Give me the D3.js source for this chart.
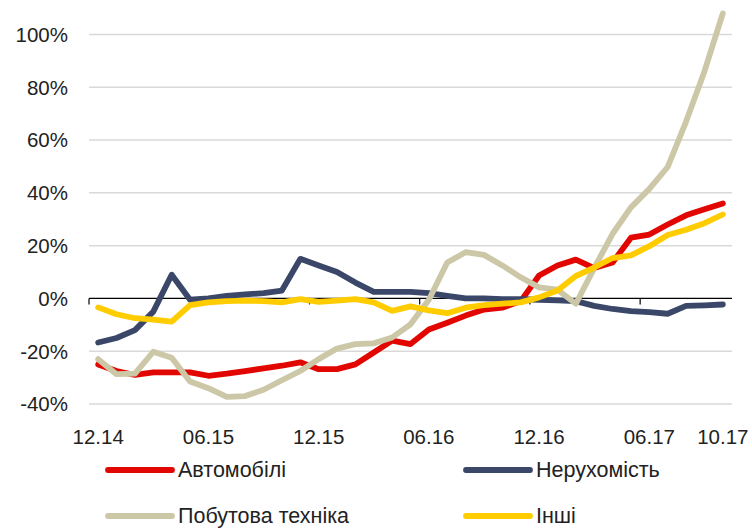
<!DOCTYPE html>
<html><head><meta charset="utf-8">
<script src="https://cdn.jsdelivr.net/npm/d3@7"></script>
<style>
html,body{margin:0;padding:0;background:#fff;}
svg{display:block;}
text{font-family:"Liberation Sans",Arial,sans-serif;fill:#222;}
</style></head>
<body>
<svg id="chart" width="752" height="529"></svg>
<script>
const months = ["12.14","01.15","02.15","03.15","04.15","05.15","06.15","07.15","08.15","09.15","10.15","11.15",
  "12.15","01.16","02.16","03.16","04.16","05.16","06.16","07.16","08.16","09.16","10.16","11.16",
  "12.16","01.17","02.17","03.17","04.17","05.17","06.17","07.17","08.17","09.17","10.17"];
const tickLabels = ["12.14","06.15","12.15","06.16","12.16","06.17","10.17"];
const yTicks = [-40,-20,0,20,40,60,80,100];

const autos = [-25,-27.5,-29,-28,-28,-28,-29.3,-28.5,-27.5,-26.5,-25.5,-24.2,
  -26.8,-26.8,-25,-20.5,-16,-17.3,-11.8,-9.2,-6.5,-4.2,-3.5,-1,
  8.7,12.5,14.7,11.5,13.6,23,24.2,28,31.5,33.8,36];
const realty = [-16.7,-15,-12,-5,9,-0.5,0,1,1.5,2,3,15,
  12.5,10,6,2.5,2.5,2.5,2,1,0,0,-0.3,-0.3,
  -0.5,-0.7,-1,-2.8,-4,-4.8,-5.2,-5.8,-2.8,-2.6,-2.3];
const appliances = [-23,-28.7,-28.5,-20.2,-22.5,-31.5,-34,-37.3,-37,-34.6,-31,-27.5,
  -23,-19,-17.3,-17,-14.8,-9.8,-0.5,13.6,17.5,16.5,12.5,8,
  4.2,3.3,-2,11.5,24.5,34.5,41.5,49.8,67,86,108];
const other = [-3.4,-6,-7.5,-8,-8.8,-2.5,-1.5,-1,-0.8,-1,-1.5,-0.3,
  -1.3,-0.8,-0.3,-1.5,-4.7,-3,-4.5,-5.6,-3.5,-2.5,-2,-1.5,
  0.4,3,8.5,11.7,15.3,16.3,19.8,24,26,28.5,31.8];

const seriesNames = ["Автомобілі","Нерухомість","Побутова техніка","Інші"];
const seriesColors = ["#e10600","#3b4768","#ccc7a6","#ffcc00"];
const seriesData = [autos, realty, appliances, other];

const svg = d3.select("#chart");
const x = d3.scaleBand().domain(months).range([89, 732]).padding(0);
const y = d3.scaleLinear().domain([-40, 100]).range([404, 34.5]);
const cx = m => x(m) + x.bandwidth() / 2;

// gridlines
svg.append("g").selectAll("line").data(yTicks.filter(d => d !== 0)).join("line")
  .attr("x1", 89).attr("x2", 732)
  .attr("y1", d => y(d)).attr("y2", d => y(d))
  .attr("stroke", "#d9d9d9").attr("stroke-width", 1.5);

// y labels
svg.append("g").selectAll("text").data(yTicks).join("text")
  .attr("x", 68).attr("y", d => y(d)).attr("dy", "0.36em")
  .attr("text-anchor", "end").attr("font-size", 20.5)
  .text(d => d + "%");

// zero axis line with ticks
const axisG = svg.append("g");
axisG.append("line").attr("x1", 89).attr("x2", 732)
  .attr("y1", y(0)).attr("y2", y(0)).attr("stroke", "#000").attr("stroke-width", 1.2);
const tickIdx = [0, 6, 12, 18, 24, 30];
axisG.selectAll("line.t").data(tickIdx).join("line").attr("class", "t")
  .attr("x1", i => x(months[i])).attr("x2", i => x(months[i]))
  .attr("y1", y(0)).attr("y2", y(0) + 6).attr("stroke", "#000").attr("stroke-width", 1.2);

// x labels
svg.append("g").selectAll("text").data(tickLabels).join("text")
  .attr("x", d => cx(d)).attr("y", 444)
  .attr("text-anchor", "middle").attr("font-size", 20.5)
  .text(d => d);

// lines
const line = d3.line().x((d, i) => cx(months[i])).y(d => y(d));
svg.append("g").selectAll("path").data(seriesData).join("path")
  .attr("d", d => line(d)).attr("fill", "none")
  .attr("stroke", (d, i) => seriesColors[i]).attr("stroke-width", 5.8)
  .attr("stroke-linejoin", "round").attr("stroke-linecap", "round");

// legend
const legPos = [[108, 470], [466, 470], [108, 516], [466, 516]];
const leg = svg.append("g").selectAll("g").data(seriesNames).join("g")
  .attr("transform", (d, i) => `translate(${legPos[i][0]},${legPos[i][1]})`);
leg.append("line").attr("x1", 0).attr("x2", 64).attr("y1", 0).attr("y2", 0)
  .attr("stroke", (d, i) => seriesColors[i]).attr("stroke-width", 5.8).attr("stroke-linecap", "round");
leg.append("text").attr("x", 70).attr("y", 0).attr("dy", "0.34em")
  .attr("font-size", 21.5).text(d => d);
</script>
</body></html>
